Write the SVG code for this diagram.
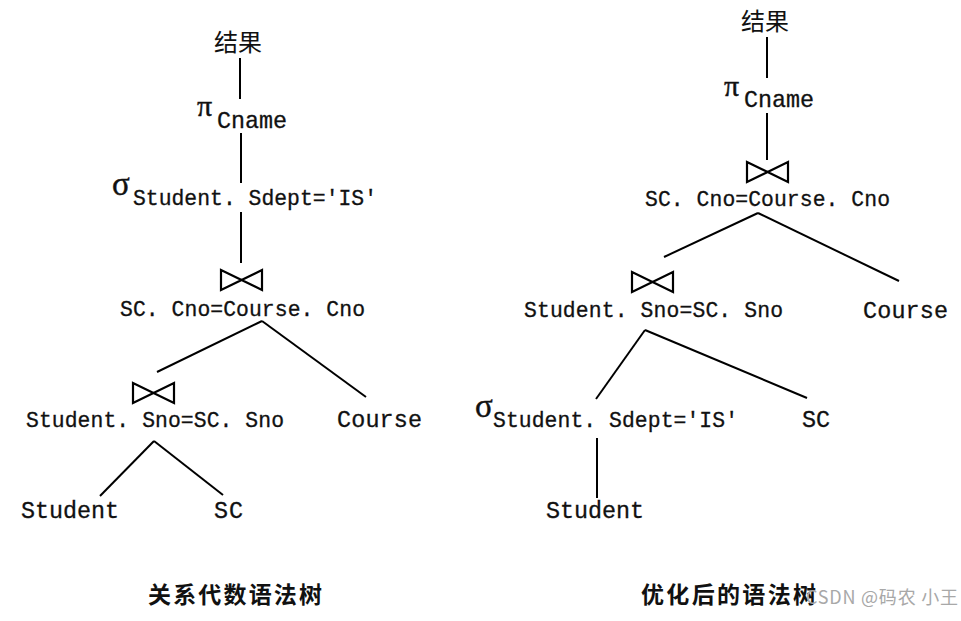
<svg xmlns="http://www.w3.org/2000/svg" width="961" height="621" viewBox="0 0 961 621">
<style>
.bg{fill:#fff}
.cjk{font-family:"Noto Sans CJK SC","Noto Sans CJK JP",sans-serif;fill:#111}
.cap{font-family:"Noto Sans CJK SC",sans-serif;font-weight:bold;fill:#111;font-size:23px}
.lbl{font-family:"Liberation Mono","DejaVu Sans Mono",monospace;fill:#111;stroke:#111;stroke-width:0.3px;font-size:21.4px}
.leaf{font-family:"Liberation Mono","DejaVu Sans Mono",monospace;fill:#111;stroke:#111;stroke-width:0.3px;font-size:23.4px}
.sym{font-family:"Liberation Serif","DejaVu Serif",serif;fill:#111;stroke:#111;stroke-width:0.4px}
.edge{stroke:#000;stroke-width:2;fill:none}
.bow{stroke:#000;stroke-width:2.2;fill:none;stroke-linejoin:miter}
.wm{font-family:"Noto Sans CJK SC",sans-serif;fill:#a8a8a8;font-size:18px}
</style>
<rect class="bg" x="0" y="0" width="961" height="621"/>
<defs>
<path id="bowtie" d="M0,0 L0,20 L41,0 L41,20 Z"/>
</defs>

<g id="connectors">
<line class="edge" x1="240" y1="58" x2="240" y2="99"/>
<line class="edge" x1="241" y1="133" x2="241" y2="183"/>
<line class="edge" x1="241" y1="212" x2="241" y2="263"/>
<line class="edge" x1="262" y1="321" x2="157" y2="372"/>
<line class="edge" x1="262" y1="321" x2="366" y2="397"/>
<line class="edge" x1="154" y1="441" x2="100" y2="496"/>
<line class="edge" x1="154" y1="441" x2="223" y2="495"/>
<line class="edge" x1="767" y1="37" x2="767" y2="78"/>
<line class="edge" x1="767" y1="113" x2="767" y2="160"/>
<line class="edge" x1="758" y1="213" x2="664" y2="257"/>
<line class="edge" x1="758" y1="213" x2="899" y2="281"/>
<line class="edge" x1="645" y1="330" x2="596" y2="399"/>
<line class="edge" x1="645" y1="330" x2="807" y2="398"/>
<line class="edge" x1="597" y1="438" x2="597" y2="498"/>
</g>

<g id="L-result"><text class="cjk" x="238" y="51" font-size="24" text-anchor="middle">结果</text></g>
<g id="L-project">
<text class="sym" x="197" y="116" font-size="30">π</text>
<text class="leaf" x="217" y="128" textLength="70">Cname</text>
</g>
<g id="L-select">
<text class="sym" x="112" y="195" font-size="33">σ</text>
<text class="lbl" x="133" y="205" textLength="244">Student. Sdept='IS'</text>
</g>
<g id="L-join1">
<use href="#bowtie" class="bow" x="221" y="270"/>
<text class="lbl" x="120" y="316" textLength="245">SC. Cno=Course. Cno</text>
</g>
<g id="L-join2">
<use href="#bowtie" class="bow" x="133" y="383"/>
<text class="lbl" x="26" y="427" textLength="258">Student. Sno=SC. Sno</text>
</g>
<g id="L-course"><text class="leaf" x="337" y="427" textLength="85">Course</text></g>
<g id="L-student"><text class="leaf" x="21" y="518" textLength="98">Student</text></g>
<g id="L-sc"><text class="leaf" x="214" y="518" textLength="29">SC</text></g>

<g id="R-result"><text class="cjk" x="765" y="30" font-size="24" text-anchor="middle">结果</text></g>
<g id="R-project">
<text class="sym" x="724" y="96" font-size="30">π</text>
<text class="leaf" x="744" y="107" textLength="70">Cname</text>
</g>
<g id="R-join1">
<use href="#bowtie" class="bow" x="747" y="162"/>
<text class="lbl" x="645" y="206" textLength="245">SC. Cno=Course. Cno</text>
</g>
<g id="R-join2">
<use href="#bowtie" class="bow" x="632" y="272"/>
<text class="lbl" x="524" y="317" textLength="259">Student. Sno=SC. Sno</text>
</g>
<g id="R-course"><text class="leaf" x="863" y="318" textLength="85">Course</text></g>
<g id="R-select">
<text class="sym" x="475" y="417" font-size="33">σ</text>
<text class="lbl" x="493" y="427" textLength="245">Student. Sdept='IS'</text>
</g>
<g id="R-sc"><text class="leaf" x="802" y="427" textLength="28">SC</text></g>
<g id="R-student"><text class="leaf" x="546" y="518" textLength="98">Student</text></g>

<g id="captions">
<text class="cap" x="148" y="603" textLength="174">关系代数语法树</text>
<text class="cap" x="641" y="603" textLength="175">优化后的语法树</text>
</g>
<text class="wm" x="806" y="604" textLength="152">CSDN @码农 小王</text>
</svg>
